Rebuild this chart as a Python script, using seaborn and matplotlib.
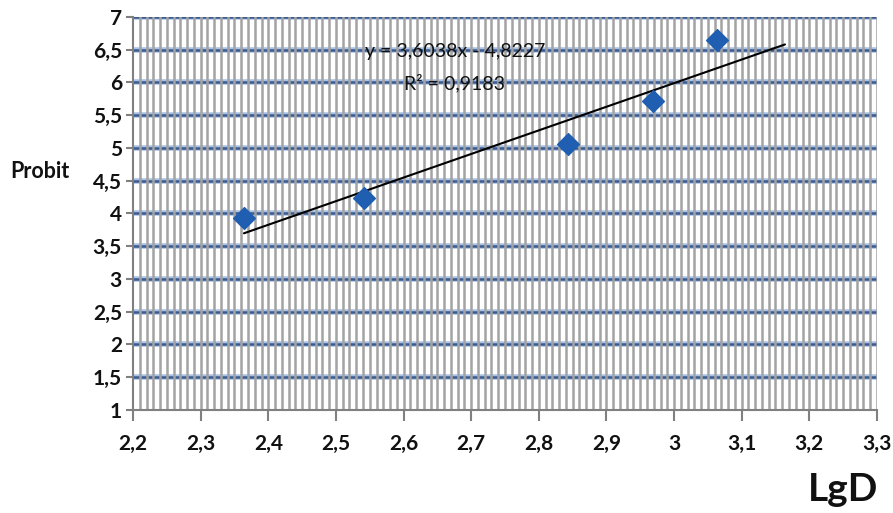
import numpy as np
import pandas as pd
import seaborn as sns
import matplotlib.pyplot as plt
from matplotlib.ticker import MultipleLocator, FuncFormatter

sns.set_theme(style="white")
plt.rcParams['font.family'] = ['Lato', 'DejaVu Sans']
plt.rcParams['font.weight'] = 'bold'

# data
lgd = [2.364, 2.542, 2.843, 2.969, 3.064]
probit = [3.93, 4.24, 5.06, 5.72, 6.65]
slope = 3.6038
intercept = -4.8227
r2_text = "0,9183"

df = pd.DataFrame({"LgD": lgd, "Probit": probit})

fig = plt.figure(figsize=(8.93, 5.13), dpi=100)
ax = fig.add_axes([0.149, 0.201, 0.833, 0.766])

# grid: gray minor verticals over blue horizontals
ax.set_xlim(2.2, 3.3)
ax.set_ylim(1, 7)
ax.xaxis.set_major_locator(MultipleLocator(0.1))
ax.xaxis.set_minor_locator(MultipleLocator(0.01))
ax.yaxis.set_major_locator(MultipleLocator(0.5))
for yv in np.arange(1.5, 7.01, 0.5):
    ax.axhline(yv, color="#a9c3e6", lw=4, zorder=0.5)
    ax.axhline(yv, color="#3c5a8e", lw=1.8, zorder=0.6)
for xv in np.arange(2.21, 3.305, 0.01):
    ax.axvline(xv, color="#a3a3a3", lw=1.8, zorder=0.7)

# trend line (forward 0.1)
xl = np.array([min(lgd), max(lgd) + 0.1])
sns.lineplot(x=xl, y=slope * xl + intercept, color="black", lw=1.5, ax=ax, zorder=3)

sns.scatterplot(data=df, x="LgD", y="Probit", marker="D", s=125,
                color="#1f5eb0", edgecolor="#1f5eb0", ax=ax, zorder=4)

ax.text(2.676, 6.47, "y = 3,6038x - 4,8227", fontsize=14, fontweight="normal",
        ha="center", va="center", color="#111111", zorder=5)
ax.text(2.676, 5.99, "R² = " + r2_text, fontsize=14, fontweight="normal",
        ha="center", va="center", color="#111111", zorder=5)

fmt = FuncFormatter(lambda v, p: ("%g" % round(v, 2)).replace(".", ","))
ax.xaxis.set_major_formatter(fmt)
ax.yaxis.set_major_formatter(fmt)

for s in ["top", "right"]:
    ax.spines[s].set_visible(False)
for s in ["left", "bottom"]:
    ax.spines[s].set_color("#808080")
    ax.spines[s].set_linewidth(1.5)
    ax.spines[s].set_zorder(2)

ax.tick_params(axis="x", which="major", direction="out", length=8, width=1.5,
               color="#808080", pad=21, labelsize=15, labelcolor="#111111", bottom=True)
ax.tick_params(axis="x", which="minor", length=0)
ax.tick_params(axis="y", which="major", direction="out", length=5, width=1.5,
               color="#808080", pad=3, labelsize=15, labelcolor="#111111", left=True)
for lab in ax.get_xticklabels():
    lab.set_verticalalignment("baseline")

ax.set_xlabel("")
ax.set_ylabel("")
fig.text(0.012, 0.665, "Probit", fontsize=15.5, fontweight="bold", va="center", color="#111111")
fig.text(0.984, 0.045, "LgD", fontsize=28, fontweight="bold", ha="right", va="center", color="#111111")

fig.savefig("out.png", dpi=100)
